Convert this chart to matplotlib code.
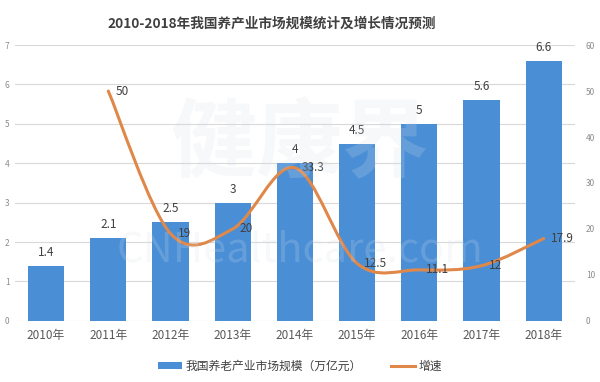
import matplotlib
matplotlib.use("Agg")
import matplotlib.pyplot as plt
from matplotlib.path import Path
from matplotlib.patches import PathPatch
from matplotlib.lines import Line2D
from matplotlib.patches import Patch
import numpy as np

plt.rcParams['font.family'] = ['Noto Sans CJK SC', 'DejaVu Sans']

years = ["2010年", "2011年", "2012年", "2013年", "2014年", "2015年", "2016年", "2017年", "2018年"]
market = [1.4, 2.1, 2.5, 3, 4, 4.5, 5, 5.6, 6.6]
growth_years_idx = [1, 2, 3, 4, 5, 6, 7, 8]
growth = [50, 19, 20, 33.3, 12.5, 11.1, 12, 17.9]
market_labels = ["1.4", "2.1", "2.5", "3", "4", "4.5", "5", "5.6", "6.6"]
growth_labels = ["50", "19", "20", "33.3", "12.5", "11.1", "12", "17.9"]
left_ticks = [0, 1, 2, 3, 4, 5, 6, 7]
right_ticks = [0, 10, 20, 30, 40, 50, 60]
title = "2010-2018年我国养产业市场规模统计及增长情况预测"
legend_bar = "我国养老产业市场规模（万亿元）"
legend_line = "增速"

bar_color = "#4a8fd6"
line_color = "#e0884a"
grid_color = "#d9d9d9"
tick_color = "#8c8c8c"
text_color = "#404040"

fig = plt.figure(figsize=(6.0, 3.82), dpi=100)
ax = fig.add_axes([0.025, 0.160, 0.933, 0.722])
x = np.arange(len(years))
ax.bar(x, market, width=0.58, color=bar_color, zorder=2)
ax.set_xlim(-0.5, len(years) - 0.5)
ax.set_ylim(0, 7)
ax.set_yticks(left_ticks)
ax.set_yticklabels([str(t) for t in left_ticks])
ax.yaxis.grid(True, color=grid_color, linewidth=0.8, zorder=0)
ax.set_axisbelow(True)
for s in ax.spines.values():
    s.set_visible(False)
ax.tick_params(axis='y', length=0, labelsize=6, labelcolor=tick_color, pad=4)
ax.set_xticks(x)
ax.set_xticklabels(years)
ax.tick_params(axis='x', length=0, labelsize=8.5, labelcolor="#595959", pad=6)

for xi, v, t in zip(x, market, market_labels):
    ax.annotate(t, (xi, v), xytext=(0, 5), textcoords='offset points',
                ha='center', va='bottom', fontsize=8.5, color=text_color, zorder=5)

ax2 = ax.twinx()
ax2.set_ylim(0, 60)
ax2.set_yticks(right_ticks)
for s in ax2.spines.values():
    s.set_visible(False)
ax2.tick_params(axis='y', length=0, labelsize=6, labelcolor=tick_color, pad=8)

# Smooth (Catmull-Rom style) curve through the growth points
gx = np.array(growth_years_idx, dtype=float)
gy = np.array(growth, dtype=float)
pts = np.column_stack([gx, gy])
verts = [tuple(pts[0])]
codes = [Path.MOVETO]
n = len(pts)
for i in range(n - 1):
    p0 = pts[i - 1] if i > 0 else pts[i]
    p1 = pts[i]
    p2 = pts[i + 1]
    p3 = pts[i + 2] if i + 2 < n else pts[i + 1]
    c1 = p1 + (p2 - p0) / 6.0
    c2 = p2 - (p3 - p1) / 6.0
    verts += [tuple(c1), tuple(c2), tuple(p2)]
    codes += [Path.CURVE4] * 3
patch = PathPatch(Path(verts, codes), facecolor='none', edgecolor=line_color,
                  linewidth=2.2, zorder=4, capstyle='round', joinstyle='round')
ax2.add_patch(patch)
for xi, v, t in zip(gx, gy, growth_labels):
    ax2.annotate(t, (xi, v), xytext=(5, 0), textcoords='offset points',
                 ha='left', va='center', fontsize=8.5, color=text_color, zorder=6)

# faint watermark
fig.text(0.50, 0.62, "健康界", fontsize=62, fontweight='bold', color='#d5dce8',
         alpha=0.2, ha='center', va='center', zorder=10)
fig.text(0.50, 0.345, "CNHealthcare.com", fontsize=30, color='#d5dce8',
         alpha=0.2, ha='center', va='center', zorder=10)

fig.text(0.453, 0.937, title, fontsize=9.8, fontweight='bold', color=text_color,
         ha='center', va='center')

handles = [Patch(facecolor=bar_color, edgecolor='none'),
           Line2D([0], [0], color=line_color, linewidth=2.2)]
fig.legend(handles, [legend_bar, legend_line], loc='center', bbox_to_anchor=(0.5, 0.042),
           ncol=2, frameon=False, fontsize=8.5, handlelength=2.0, handleheight=0.5,
           columnspacing=2.5, handletextpad=0.3, labelcolor=text_color)

fig.savefig("out.png", dpi=100)
